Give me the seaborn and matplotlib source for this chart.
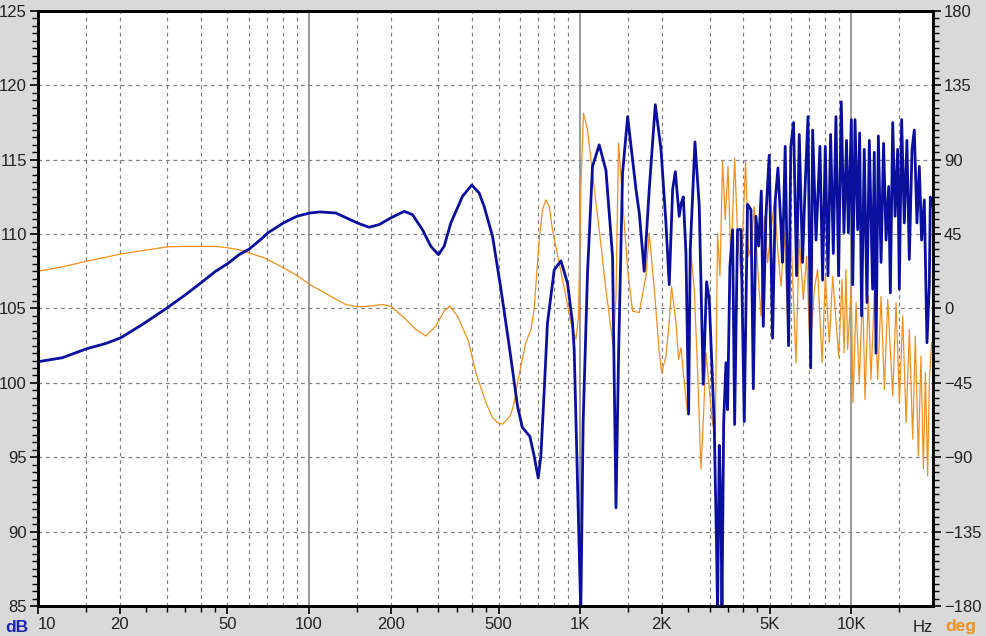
import pandas as pd
import seaborn as sns
import matplotlib.pyplot as plt
from matplotlib.ticker import FixedLocator, MultipleLocator, NullFormatter

# magnitude (dB), left axis
freq_db = [10, 12.3, 15.1, 17.8, 20.2, 24.3, 30, 35.1, 40.2, 45.2, 50.1, 55.2, 60.2, 67.3, 70.4,
           80.4, 90.1, 100.6, 109.8, 125.5, 150.7, 166.5, 181.3, 200.2, 224.2, 240.6, 261.9,
           281.2, 300, 314.8, 333.3, 368, 398, 424, 442, 475, 510, 547, 587, 612, 652, 676, 700,
           716, 737, 757, 802, 849, 898, 937, 950, 986, 1005, 1025, 1064, 1110, 1175, 1244, 1316,
           1355, 1385, 1433, 1496, 1606, 1652, 1722, 1797, 1892, 1986, 2071, 2130, 2192, 2243,
           2318, 2353, 2400, 2455, 2511, 2546, 2650, 2748, 2843, 2925, 2992, 3120, 3182, 3211,
           3257, 3303, 3333, 3381, 3448, 3496, 3565, 3648, 3711, 3804, 3917, 4028, 4140, 4264,
           4350, 4448, 4550, 4655, 4733, 4842, 4978, 5123, 5243, 5362, 5502, 5572, 5702, 5866,
           5981, 6122, 6281, 6426, 6607, 6761, 6920, 7080, 7200, 7410, 7660, 7835, 8015, 8200,
           8385, 8580, 8775, 8975, 9180, 9390, 9600, 9750, 10000, 10120, 10320, 10550, 10730,
           10910, 11160, 11420, 11650, 11980, 12150, 12330, 12580, 12870, 13150, 13430, 13730,
           13930, 14210, 14500, 14820, 15030, 15330, 15680, 16030, 16360, 16740, 17070, 17460,
           17810, 18160, 18580, 19010, 19390, 19560, 19780]
level_db = [101.42, 101.69, 102.29, 102.65, 103.03, 103.93, 105.05, 105.94, 106.77, 107.5, 108.02,
            108.62, 109.0, 109.74, 110.08, 110.75, 111.2, 111.42, 111.49, 111.42, 110.75, 110.46,
            110.64, 111.09, 111.53, 111.31, 110.3, 109.18, 108.62, 109.18, 110.75, 112.54, 113.3,
            112.76, 111.87, 109.85, 106.3, 102.5, 98.45, 97.0, 96.4, 95.1, 93.6, 95.1, 99.56,
            104.0, 107.6, 108.2, 106.7, 104.0, 102.25, 90.6, 84.5, 97.3, 107.4, 114.55, 116.0,
            114.3, 108.5, 91.6, 101.8, 114.1, 117.9, 113.0, 111.4, 107.5, 113.0, 118.7, 115.7,
            110.75, 106.6, 113.0, 114.2, 111.2, 112.0, 112.5, 108.7, 97.9, 108.95, 116.2, 111.9,
            99.9, 106.8, 105.6, 97.3, 89.2, 84.5, 95.8, 91.7, 84.5, 97.3, 101.35, 98.2, 107.8,
            110.3, 97.2, 110.3, 110.3, 97.4, 112.0, 111.65, 99.6, 111.2, 109.2, 112.9, 103.8,
            111.2, 115.3, 103.0, 112.3, 114.45, 110.5, 108.1, 115.9, 102.5, 115.9, 117.5, 107.2,
            116.7, 108.1, 113.4, 117.9, 101.0, 117.0, 109.6, 115.9, 106.9, 115.9, 107.2, 116.7,
            108.7, 117.9, 107.2, 118.9, 110.1, 116.3, 110.1, 117.7, 106.6, 117.7, 110.3, 116.8,
            104.5, 115.7, 105.4, 116.3, 106.3, 115.5, 102.0, 116.6, 108.1, 116.1, 109.6, 113.2,
            106.05, 117.5, 111.2, 115.7, 106.3, 117.7, 110.75, 116.3, 108.3, 115.7, 117.0,
            110.75, 114.55, 109.6, 112.3, 102.7, 106.5, 112.5, 111.9]

# phase (deg), right axis
freq_ph = [10, 12.3, 15.1, 17.8, 20.2, 24.3, 30, 35.1, 40.2, 45.2, 50.1, 55.2, 60.2, 67.3, 70.4,
           80.4, 90.1, 100.6, 118.5, 136.6, 150.7, 166.5, 186.5, 200.2, 224.2, 247.6, 269.6,
           293.4, 314.8, 330.4, 352.7, 387, 412, 449, 475, 495, 517, 539, 555, 571, 587, 612,
           630, 658, 676, 690, 706, 726, 747, 769, 790, 836, 885, 924, 964, 986, 1005, 1028,
           1064, 1110, 1175, 1244, 1324, 1355, 1385, 1433, 1496, 1560, 1650, 1747, 1797, 1876,
           1958, 1997, 2071, 2130, 2172, 2256, 2306, 2353, 2420, 2489, 2560, 2635, 2711, 2788,
           2843, 2910, 2992, 3076, 3148, 3211, 3277, 3350, 3428, 3508, 3598, 3711, 3804, 3917,
           4074, 4180, 4264, 4385, 4509, 4645, 4777, 4911, 5057, 5206, 5352, 5503, 5660, 5819,
           5984, 6248, 6427, 6652, 6843, 7040, 7300, 7510, 7800, 8020, 8295, 8535, 8980, 9240,
           9400, 9550, 9690, 10000, 10140, 10410, 10700, 11010, 11230, 11550, 11820, 12160,
           12510, 12870, 13240, 13620, 14210, 14620, 15040, 15470, 15920, 16370, 16840, 17220,
           17660, 18070, 18440, 18760, 19120, 19400, 19780]
phase_deg = [22.5, 25.2, 28.6, 31.0, 33.0, 35.0, 37.3, 37.6, 37.6, 37.6, 36.7, 35.6, 33.6, 31.0,
             29.6, 24.6, 20.0, 14.5, 7.9, 2.4, 1.0, 1.4, 2.4, 1.4, -5.6, -12.7, -16.7, -10.7,
             -1.6, 1.4, -4.6, -19.7, -38.8, -57.0, -66.0, -69.0, -70.1, -67.0, -64.0, -57.0,
             -44.9, -30.8, -20.7, -12.7, -0.6, 19.5, 41.7, 59.8, 65.8, 61.8, 47.7, 27.6, 7.4,
             -8.6, -18.7, -4.6, 71.9, 118.2, 108.1, 82.0, 47.7, 11.5, -22.8, 7.4, 100.1, 65.8,
             23.6, -1.5, -2.5, 19.5, 45.7, 11.5, -26.8, -38.8, -28.8, -8.6, 13.5, -8.6, -30.8,
             -23.7, -44.9, -64.0, 33.7, 11.5, -38.8, -97.2, -69.0, -26.8, -48.9, -69.0, -77.0,
             45.7, 19.5, 89.0, 53.8, 86.0, 27.6, 91.0, 45.7, 19.5, 89.0, 31.6, 37.6, 61.8, 25.6,
             -4.6, 55.8, 27.6, 47.7, 64.8, 35.6, 13.5, 45.7, -8.6, 45.7, -32.8, 41.7, 5.5, 31.6,
             -26.8, 11.5, 23.6, -32.8, 19.5, -20.7, 19.5, -28.8, 17.5, -26.8, 23.6, -24.8, 13.5,
             -57.0, 3.5, -44.9, 11.5, -55.0, 7.4, -42.9, 9.5, -42.9, 7.4, -48.9, 5.5, -53.0, 3.5,
             -57.0, -4.6, -69.0, -12.7, -79.0, -16.7, -89.2, -28.8, -97.2, -38.8, -101.3, -42.9,
             -20.7]

x_ticks = [10, 20, 50, 100, 200, 500, 1000, 2000, 5000, 10000]
x_labels = ['10', '20', '50', '100', '200', '500', '1K', '2K', '5K', '10K']

mag = pd.DataFrame({'Hz': freq_db, 'dB': level_db})
pha = pd.DataFrame({'Hz': freq_ph, 'deg': phase_deg})

sns.set_style('white')
plt.rcParams['font.family'] = ['Liberation Sans', 'DejaVu Sans']

BLUE = '#0a0f9e'
ORANGE = '#f0901e'
TXT = '#222222'

fig = plt.figure(figsize=(9.86, 6.36), dpi=100, facecolor='#d9d9d9')
ax = fig.add_axes([0.0385, 0.0472, 0.9077, 0.9355])
ax2 = ax.twinx()

# phase axes below, dB axes on top so the blue trace covers the orange one
ax2.set_zorder(0)
ax.set_zorder(1)
ax.patch.set_visible(False)
ax2.patch.set_visible(True)
ax2.patch.set_facecolor('white')

ax.set_xscale('log')
ax.set_xlim(10, 20000)
ax.set_ylim(85, 125)
ax2.set_ylim(-180, 180)

# grid (drawn on the lower axes)
for dec in [10, 100, 1000, 10000]:
    for m in [1.5, 2, 3, 4, 5, 6, 7, 8, 9]:
        f = dec * m
        if f < 20000:
            ax2.axvline(f, color='#808080', lw=0.9, ls=(0, (3, 3)), zorder=0)
for f in [100, 1000, 10000]:
    ax2.axvline(f, color='#8a8a8a', lw=1.2, zorder=0)
for d in [-135, -90, -45, 0, 45, 90, 135]:
    ax2.axhline(d, color='#808080', lw=0.9, ls=(0, (3, 3)), zorder=0)

sns.lineplot(data=pha, x='Hz', y='deg', ax=ax2, color=ORANGE, lw=0.9,
             sort=False, estimator=None)
sns.lineplot(data=mag, x='Hz', y='dB', ax=ax, color=BLUE, lw=2.0,
             sort=False, estimator=None)

ax.set_xlabel('')
ax.set_ylabel('')
ax2.set_ylabel('')

ax.xaxis.set_major_locator(FixedLocator(x_ticks))
ax.set_xticklabels(x_labels)
ax.get_xticklabels()[0].set_horizontalalignment('left')
minor_x = [dec * m for dec in [10, 100, 1000, 10000] for m in [1.5, 2.5, 3, 3.5, 4, 4.5]]
ax.xaxis.set_minor_locator(FixedLocator([f for f in minor_x if f < 20000]))
ax.xaxis.set_minor_formatter(NullFormatter())

ax.yaxis.set_major_locator(MultipleLocator(5))
ax.yaxis.set_minor_locator(MultipleLocator(0.5))
ax2.yaxis.set_major_locator(MultipleLocator(45))
ax2.yaxis.set_minor_locator(MultipleLocator(4.5))

for a in (ax, ax2):
    a.tick_params(which='major', direction='out', length=6, width=1.2, color='black',
                  labelsize=12, labelcolor=TXT, pad=2)
    a.tick_params(which='minor', direction='out', length=4, width=1.0, color='black')
    for s in a.spines.values():
        s.set_color('black')
        s.set_linewidth(2)
ax.tick_params(axis='y', which='both', left=True, right=False)
ax2.tick_params(axis='y', which='both', right=True, left=False)
ax.tick_params(axis='x', which='both', bottom=True)

fig.text(5 / 986, 1 - 627 / 636, 'dB', color='#1a22b0', fontsize=12.5, fontweight='bold',
         va='center', ha='left')
fig.text(945 / 986, 1 - 627 / 636, 'deg', color=ORANGE, fontsize=12.5, fontweight='bold',
         va='center', ha='left')
fig.text(923 / 986, 1 - 627 / 636, 'Hz', color=TXT, fontsize=12, va='center', ha='center')

fig.savefig('out.png', dpi=100, facecolor=fig.get_facecolor())
